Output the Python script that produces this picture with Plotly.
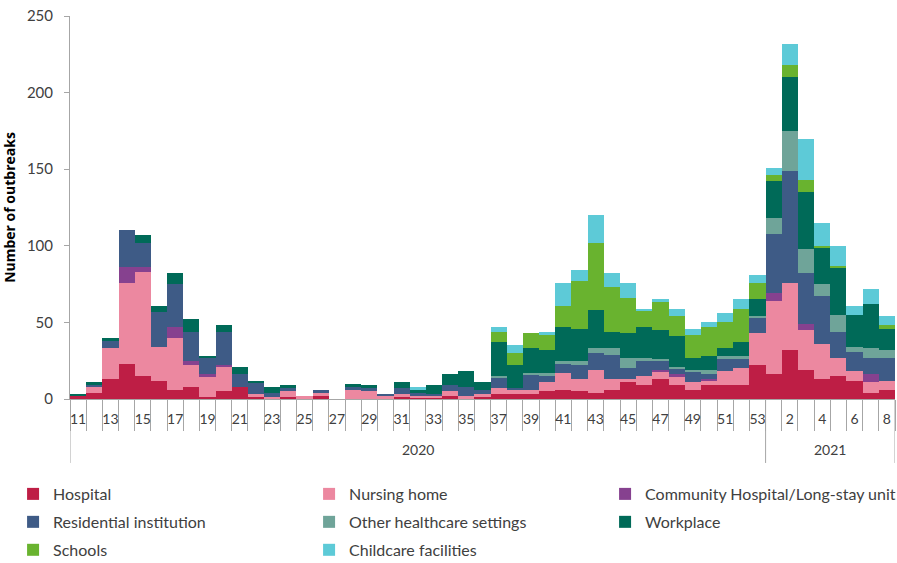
import plotly.graph_objects as go

weeks = [str(w) for w in range(11, 54)] + [str(w) for w in range(1, 9)]
years = ["2020"] * 43 + ["2021"] * 8

hospital = [2, 4, 13, 23, 15, 12, 6, 8, 1, 5, 8, 1, 0, 1, 0, 2, 0, 0, 0, 0, 1, 1, 1, 2, 0, 1,
            3, 3, 3, 5, 6, 5, 4, 6, 11, 9, 13, 9, 6, 9, 9, 9, 22,
            16, 32, 19, 13, 15, 12, 4, 6]
nursing_home = [0, 4, 20, 53, 68, 22, 34, 14, 14, 16, 0, 2, 1, 4, 2, 2, 0, 6, 5, 2, 2, 1, 1, 3, 2, 2,
                4, 3, 3, 6, 11, 8, 15, 7, 2, 6, 5, 6, 5, 3, 9, 11, 21,
                48, 44, 26, 23, 12, 6, 7, 6]
community = [0, 0, 0, 10, 3, 0, 7, 3, 1, 1, 0, 0, 0, 0, 0, 0, 0, 0, 0, 0, 0, 0, 0, 0, 0, 0,
             0, 0, 0, 0, 0, 0, 0, 0, 0, 0, 1, 1, 0, 1, 0, 0, 0,
             5, 0, 4, 0, 0, 0, 5, 0]
residential = [0, 1, 5, 24, 16, 23, 28, 19, 11, 22, 8, 8, 3, 2, 0, 2, 0, 2, 2, 1, 4, 2, 1, 4, 6, 3,
               7, 1, 10, 4, 6, 9, 11, 16, 7, 10, 6, 4, 7, 3, 8, 6, 10,
               39, 73, 33, 31, 17, 13, 11, 15]
other_healthcare = [0, 0, 0, 0, 0, 0, 0, 0, 0, 0, 0, 0, 0, 0, 0, 0, 0, 0, 0, 0, 0, 0, 0, 0, 0, 0,
                    1, 0, 1, 2, 2, 3, 3, 4, 7, 2, 1, 1, 1, 3, 2, 2, 1,
                    10, 26, 16, 8, 11, 3, 6, 5]
workplace = [1, 2, 2, 0, 5, 4, 7, 8, 1, 4, 5, 1, 4, 2, 0, 0, 0, 2, 2, 0, 4, 2, 6, 7, 10, 5,
             22, 15, 16, 15, 22, 21, 25, 11, 16, 20, 19, 20, 8, 9, 5, 9, 11,
             24, 35, 37, 24, 31, 21, 29, 14]
schools = [0] * 26 + [7, 8, 10, 10, 14, 31, 44, 29, 23, 11, 18, 13, 15, 19, 17, 22, 11,
                      4, 8, 8, 1, 1, 0, 0, 2]
childcare = [0] * 21 + [2, 0, 0, 0, 0] + [3, 5, 0, 2, 15, 7, 18, 9, 10, 1, 2, 5, 4, 3, 6, 6, 5,
                                         5, 14, 27, 15, 13, 6, 10, 6]

series = [
    ("Hospital", hospital, "#BE1E45"),
    ("Nursing home", nursing_home, "#EC88A0"),
    ("Community Hospital/Long-stay unit", community, "#86418F"),
    ("Residential institution", residential, "#3E5B86"),
    ("Other healthcare settings", other_healthcare, "#6FA499"),
    ("Workplace", workplace, "#006A58"),
    ("Schools", schools, "#69B32F"),
    ("Childcare facilities", childcare, "#5DCAD7"),
]

FONT = "Lato"
TXT = "#404040"
AX = "#A6A6A6"

legend_ids = ["legend", "legend2", "legend3"]
legend_rows_y = [-0.248, -0.321, -0.394]

idx = list(range(len(weeks)))
fig = go.Figure()
for k, (name, vals, col) in enumerate(series):
    fig.add_trace(go.Bar(x=idx, y=vals, name=name, legend=legend_ids[k // 3],
                         marker=dict(color=col, line=dict(width=0))))

# labels every other category
lab_pos = idx[::2]
lab_txt = [weeks[i] for i in lab_pos]

# year group dividers and labels
first_2021 = years.index("2021")
dividers = [-0.5, first_2021 - 0.5, len(weeks) - 0.5]
shapes = [dict(type="line", xref="x", yref="paper", x0=d, x1=d, y0=0, y1=-0.167,
               line=dict(color=AX, width=1)) for d in dividers]
annotations = []
for yr in ["2020", "2021"]:
    pos = [i for i, y in enumerate(years) if y == yr]
    annotations.append(dict(x=(pos[0] + pos[-1]) / 2, y=-0.133, xref="x", yref="paper",
                            text=yr, showarrow=False, font=dict(family=FONT, size=14, color=TXT),
                            yanchor="middle"))

legend_common = dict(orientation="h", x=-0.069, xanchor="left", yanchor="middle",
                     entrywidth=251, entrywidthmode="pixels", traceorder="normal",
                     font=dict(family=FONT, size=16, color=TXT), bgcolor="rgba(0,0,0,0)")

fig.update_layout(
    width=897, height=563,
    margin=dict(l=70, r=2, t=16, b=164, autoexpand=False),
    paper_bgcolor="white", plot_bgcolor="white",
    barmode="stack", bargap=0,
    font=dict(family=FONT, size=14, color=TXT),
    shapes=shapes, annotations=annotations,
    xaxis=dict(
        range=[-0.5, len(weeks) - 0.5], tickmode="array", tickvals=lab_pos, ticktext=lab_txt,
        ticks="outside", ticklen=7, tickcolor="rgba(0,0,0,0)",
        tickfont=dict(family=FONT, size=14, color=TXT),
        showline=True, linecolor=AX, linewidth=1, showgrid=False, zeroline=False,
        minor=dict(tickmode="array", tickvals=[i - 0.5 for i in range(len(weeks) + 1)],
                   ticks="outside", ticklen=31, tickcolor=AX, tickwidth=1, showgrid=False),
    ),
    yaxis=dict(
        range=[0, 250], dtick=50, ticks="outside", ticklen=5, tickcolor=AX,
        showline=True, linecolor=AX, linewidth=1, showgrid=False, zeroline=False,
        tickfont=dict(family=FONT, size=15, color=TXT), ticklabelstandoff=8,
        title=dict(text="<b>Number of outbreaks</b>",
                   font=dict(family="Open Sans", size=14, color="black"),
                   standoff=14),
    ),
    legend=dict(y=legend_rows_y[0], **legend_common),
    legend2=dict(y=legend_rows_y[1], **legend_common),
    legend3=dict(y=legend_rows_y[2], **legend_common),
)

fig.write_html(
    "out.html",
    config={"displayModeBar": False},
    post_script="document.body.style.margin='0';document.body.style.overflow='hidden';",
)
